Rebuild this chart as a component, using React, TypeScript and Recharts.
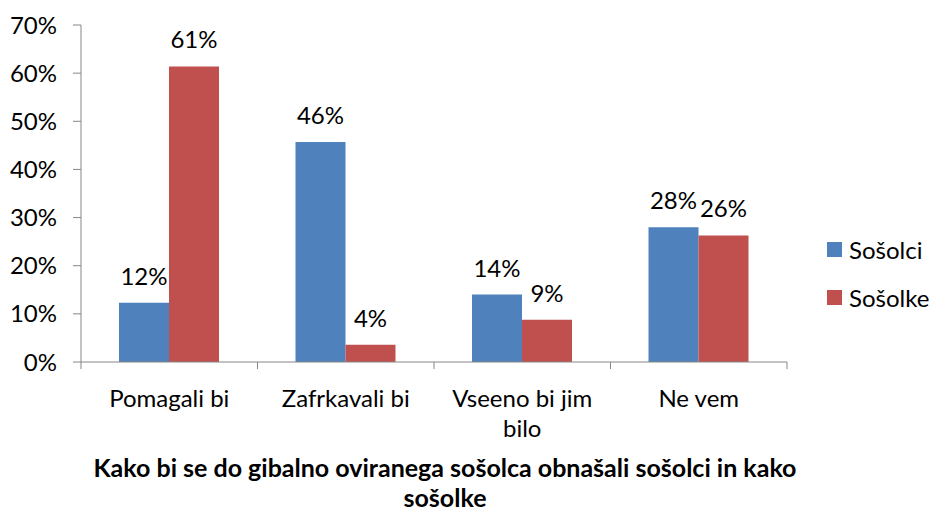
import { Bar, BarChart, LabelList, XAxis, YAxis } from "recharts";

// categories and series values (percent)
const categories = ["Pomagali bi", "Zafrkavali bi", "Vseeno bi jim bilo", "Ne vem"];
const sosolci = [12.3, 45.7, 14.0, 28.0];
const sosolke = [61.4, 3.6, 8.8, 26.3];
const yTicks = [0, 10, 20, 30, 40, 50, 60, 70];

const seriesNames = ["Sošolci", "Sošolke"];
const colors = ["#4F81BD", "#C0504D"];
const title = ["Kako bi se do gibalno oviranega sošolca obnašali sošolci in kako", "sošolke"];

const data = categories.map((c, i) => ({
  name: c,
  Sošolci: sosolci[i],
  Sošolke: sosolke[i],
}));

const FONT = "Lato, 'Liberation Sans', sans-serif";
const AXIS = "#868686";

// simple greedy wrap for category labels
const wrap = (s: string, max: number) => {
  const lines: string[] = [];
  let cur = "";
  s.split(" ").forEach((w) => {
    const next = cur ? cur + " " + w : w;
    if (next.length > max && cur) {
      lines.push(cur);
      cur = w;
    } else cur = next;
  });
  if (cur) lines.push(cur);
  return lines;
};

const CategoryTick = (props: any) => {
  const { x, y, payload, index } = props;
  const half = payload.offset || 0;
  const lines = wrap(String(payload.value), 13);
  return (
    <g>
      <line x1={x - half} x2={x - half} y1={y} y2={y + 7} stroke={AXIS} />
      {index === categories.length - 1 && (
        <line x1={x + half} x2={x + half} y1={y} y2={y + 7} stroke={AXIS} />
      )}
      <text x={x} y={y + 45} textAnchor="middle" fontSize={24} fontFamily={FONT} fill="#000">
        {lines.map((l, i) => (
          <tspan key={i} x={x} dy={i === 0 ? 0 : 30}>
            {l}
          </tspan>
        ))}
      </text>
    </g>
  );
};

const App = () => {
  return (
    <div style={{ position: "absolute", left: 0, top: 0, width: 933, height: 513, background: "#fff" }}>
      <BarChart
        width={933}
        height={513}
        data={data}
        margin={{ top: 25, right: 146, left: 0, bottom: 0 }}
        barCategoryGap={38}
        barGap={0}
      >
        <XAxis
          dataKey="name"
          height={151}
          interval={0}
          tickLine={false}
          tickSize={0}
          tickMargin={0}
          axisLine={{ stroke: AXIS }}
          tick={<CategoryTick />}
        />
        <YAxis
          width={81}
          domain={[0, 70]}
          ticks={yTicks}
          tickSize={8}
          tickMargin={16}
          tickFormatter={(v: number) => `${v}%`}
          axisLine={{ stroke: AXIS }}
          tickLine={{ stroke: AXIS }}
          tick={{ fontSize: 24, fontFamily: FONT, fill: "#000" }}
        />
        {seriesNames.map((s, i) => (
          <Bar key={s} dataKey={s} fill={colors[i]} isAnimationActive={false}>
            <LabelList
              dataKey={s}
              position="top"
              offset={18}
              formatter={(v: any) => `${Math.round(Number(v))}%`}
              style={{ fontSize: 24, fontFamily: FONT, fill: "#000" }}
            />
          </Bar>
        ))}
      </BarChart>
      {seriesNames.map((s, i) => (
        <div
          key={s}
          style={{
            position: "absolute",
            left: 827,
            top: 235 + i * 48,
            display: "flex",
            alignItems: "center",
            fontFamily: FONT,
            fontSize: 24,
            height: 28,
          }}
        >
          <span style={{ display: "inline-block", width: 15, height: 15, background: colors[i], marginRight: 7 }} />
          <span>{s}</span>
        </div>
      ))}
      <div
        style={{
          position: "absolute",
          left: 0,
          top: 452,
          width: 890,
          textAlign: "center",
          fontFamily: FONT,
          fontWeight: 700,
          fontSize: 25,
          lineHeight: "30px",
        }}
      >
        {title.map((t) => (
          <div key={t}>{t}</div>
        ))}
      </div>
    </div>
  );
};

export default App;
